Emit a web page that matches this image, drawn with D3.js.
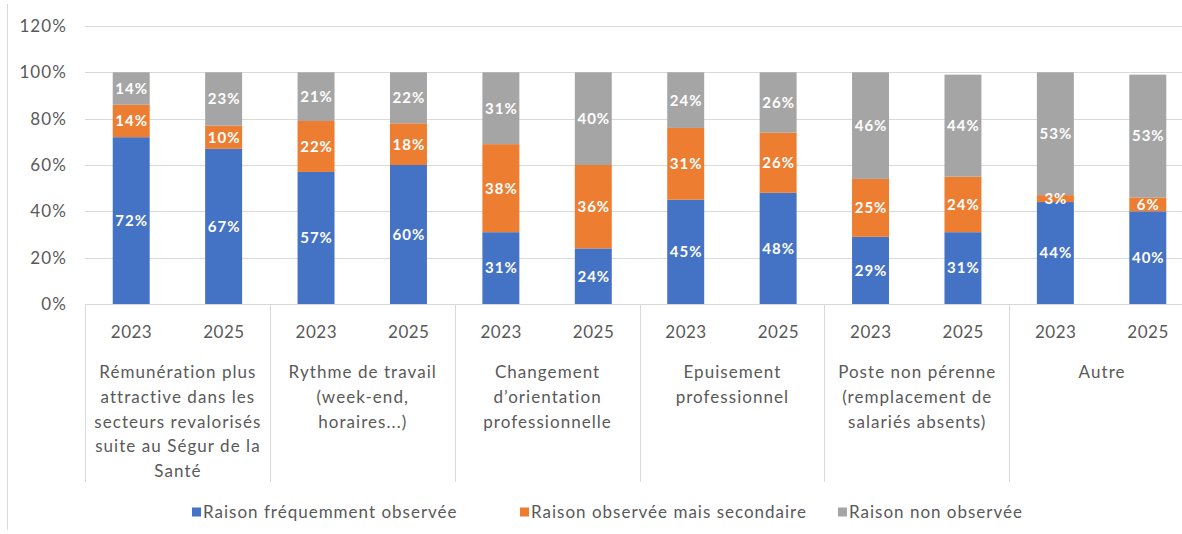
<!DOCTYPE html>
<html><head><meta charset="utf-8">
<script src="https://cdn.jsdelivr.net/npm/d3@7"></script>
<style>
html,body{margin:0;padding:0;background:#fff;}
svg{display:block;font-family:"Lato","Liberation Sans",sans-serif;}
</style></head>
<body><svg id="c" width="1182" height="534"></svg>
<script>
const groups = [
  ["Rémunération plus","attractive dans les","secteurs revalorisés","suite au Ségur de la","Santé"],
  ["Rythme de travail","(week-end,","horaires...)"],
  ["Changement","d’orientation","professionnelle"],
  ["Epuisement","professionnel"],
  ["Poste non pérenne","(remplacement de","salariés absents)"],
  ["Autre"]
];
const years = ["2023","2025"];
const seriesNames = ["Raison fréquemment observée","Raison observée mais secondaire","Raison non observée"];
const frequent  = [72,67,57,60,31,24,45,48,29,31,44,40];
const secondary = [14,10,22,18,38,36,31,26,25,24,3,6];
const notObs    = [14,23,21,22,31,40,24,26,46,44,53,53];
const yTicks = [0,20,40,60,80,100,120];
const colors = ["#4472C4","#ED7D31","#A5A5A5"];

(function(){
const svg = d3.select("#c");
const pL = 85, pR = 1194, pT = 26, pB = 304;
const keys = [];
groups.forEach((g,gi)=>years.forEach(y=>keys.push(gi+"-"+y)));
const x = d3.scaleBand().domain(keys).range([pL,pR]).paddingInner(0.6).paddingOuter(0.3);
const y = d3.scaleLinear().domain([0,120]).range([pB,pT]);
const txt = "#595959";

svg.append("line").attr("x1",7.5).attr("x2",7.5).attr("y1",4).attr("y2",530).attr("stroke","#d9d9d9");

svg.append("g").selectAll("line").data(yTicks.filter(t=>t>0)).join("line")
  .attr("x1",pL).attr("x2",pR).attr("y1",d=>Math.round(y(d))+0.5).attr("y2",d=>Math.round(y(d))+0.5)
  .attr("stroke","#d9d9d9").attr("stroke-width",1);

const yAxis = d3.axisLeft(y).tickValues(yTicks).tickFormat(d=>d+"%").tickSize(0).tickPadding(18);
const ya = svg.append("g").attr("transform",`translate(${pL},0)`).call(yAxis);
ya.select(".domain").remove();
ya.selectAll("text").attr("fill",txt).style("font-size","17px").style("letter-spacing","1.1px")
  .style("font-family","Lato, sans-serif");

const rows = keys.map((k,i)=>({key:k, f:frequent[i], s:secondary[i], n:notObs[i]}));
const stack = d3.stack().keys(["f","s","n"])(rows);
const gBars = svg.append("g");
const vals = [frequent,secondary,notObs];
stack.forEach((layer,li)=>{
  gBars.append("g").attr("fill",colors[li]).selectAll("rect").data(layer).join("rect")
    .attr("x",d=>x(d.data.key)).attr("width",x.bandwidth())
    .attr("y",d=>y(d[1])).attr("height",d=>y(d[0])-y(d[1]));
});
stack.forEach((layer,li)=>{
  gBars.append("g").selectAll("text").data(layer).join("text")
    .attr("x",d=>x(d.data.key)+x.bandwidth()/2+0.5)
    .attr("y",d=>(y(d[0])+y(d[1]))/2)
    .attr("dy","0.36em").attr("text-anchor","middle")
    .attr("fill","#fff").style("font-weight","bold").style("font-size","15px").style("letter-spacing","1px")
    .text((d,i)=>vals[li][i]+"%");
});

const axisBottom = 482;
svg.append("line").attr("x1",pL).attr("x2",pR).attr("y1",pB+0.5).attr("y2",pB+0.5).attr("stroke","#d9d9d9");
const groupW = x.step()*2;
for(let gi=0; gi<=groups.length; gi++){
  const gx = Math.round(pL + gi*groupW)+0.5;
  svg.append("line").attr("x1",gx).attr("x2",gx).attr("y1",pB).attr("y2",axisBottom).attr("stroke","#d9d9d9");
}
svg.append("g").selectAll("text").data(keys).join("text")
  .attr("x",d=>x(d)+x.bandwidth()/2+0.3).attr("y",332).attr("dy","0.36em")
  .attr("text-anchor","middle").attr("fill",txt).style("font-size","17px").style("letter-spacing","0.5px")
  .text(d=>d.split("-")[1]);
groups.forEach((lines,gi)=>{
  const cx = pL + gi*groupW + groupW/2 + 0.5;
  const t = svg.append("text").attr("text-anchor","middle").attr("fill",txt)
    .style("font-size","17px").style("letter-spacing","1.05px");
  lines.forEach((l,li)=>t.append("tspan").attr("x",cx).attr("y",372+li*24.7).attr("dy","0.36em").text(l));
});

const legX = [192,520,838];
const lg = svg.append("g").selectAll("g").data(seriesNames).join("g")
  .attr("transform",(d,i)=>`translate(${legX[i]},512)`);
lg.append("rect").attr("x",0).attr("y",-4.5).attr("width",9).attr("height",9).attr("fill",(d,i)=>colors[i]);
lg.append("text").attr("x",11).attr("dy","0.36em").attr("fill",txt)
  .style("font-size","17px").style("letter-spacing","1px").text(d=>d);
})();
</script></body></html>
